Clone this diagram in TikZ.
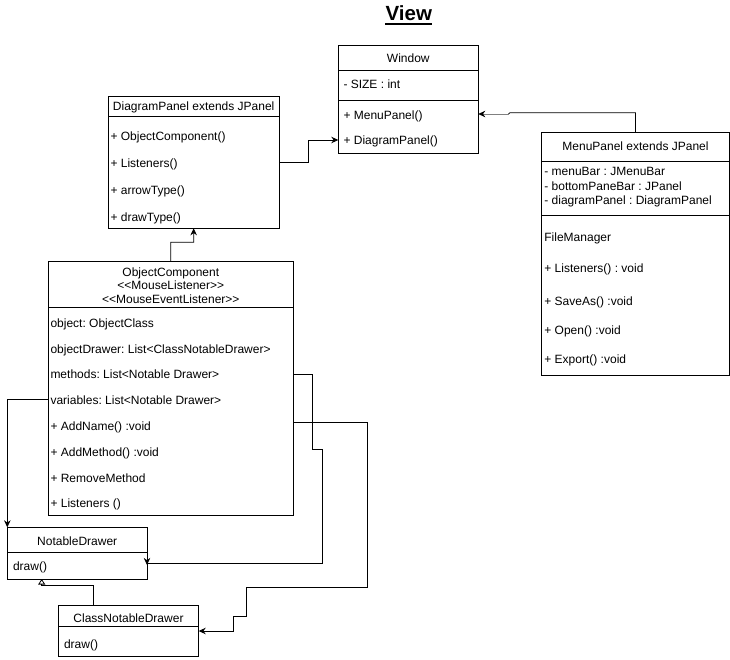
\documentclass[tikz,border=0pt]{standalone}
\usepackage{fontspec}
\setmainfont{Liberation Sans}
\usetikzlibrary{arrows.meta,calc}
\tikzset{
  umlbox/.style={draw, line width=0.8pt, anchor=north west, inner sep=0pt, outer sep=0pt},
  sepline/.style={line width=0.8pt},
  txt/.style={anchor=base west, inner sep=0pt, font=\fontsize{12}{14}\selectfont\frenchspacing},
  ctxt/.style={anchor=base, inner sep=0pt, font=\fontsize{12}{14}\selectfont\frenchspacing},
  conn/.style={line width=0.8pt},
  arr/.style={conn, -{Stealth[length=7pt,width=6.5pt]}},
  inh/.style={conn, -{Triangle[open,length=5.5pt,width=7pt]}},
}
\begin{document}
\begin{tikzpicture}[x=1pt,y=-1pt]
\useasboundingbox (0,0) rectangle (730,660);

% title
\node[anchor=base, inner sep=0pt, font=\fontsize{20.5}{24}\selectfont\bfseries] (title) at (408.8,20.7) {View};
\draw[line width=1.8pt] ($(title.south west)+(0,2.6)$) -- ($(title.south east)+(0,2.6)$);

% Window
\node[umlbox, minimum width=140pt, minimum height=108.3pt] (win) at (338.3,45) {};
\draw[sepline] (338.3,70.7) -- (478.3,70.7);
\draw[sepline] (338.3,100.7) -- (478.3,100.7);
\node[ctxt] (w0) at (408.3,62.3) {Window};
\node[txt] (w1) at (343.3,88.8) {- SIZE : int};
\node[txt] (w2) at (343.3,120.0) {+ MenuPanel()};
\node[txt] (w3) at (343.3,144.3) {+ DiagramPanel()};

% DiagramPanel
\node[umlbox, minimum width=170.7pt, minimum height=131.6pt] (dp) at (108.3,96.7) {};
\draw[sepline] (108.3,116.7) -- (279,116.7);
\node[ctxt] (d0) at (193.7,111.0) {DiagramPanel extends JPanel};
\node[txt] (d1) at (110.3,141.0) {+ ObjectComponent()};
\node[txt] (d2) at (110.3,167.6) {+ Listeners()};
\node[txt] (d3) at (110.3,195.0) {+ arrowType()};
\node[txt] (d4) at (110.3,221.6) {+ drawType()};

% MenuPanel
\node[umlbox, minimum width=187.6pt, minimum height=243.4pt] (mp) at (541.7,132.3) {};
\draw[sepline] (541.7,161) -- (729.3,161);
\draw[sepline] (541.7,215.7) -- (729.3,215.7);
\node[ctxt] (m0) at (635.5,151.0) {MenuPanel extends JPanel};
\node[txt] (m1) at (544.2,176.0) {- menuBar : JMenuBar};
\node[txt] (m2) at (544.2,190.3) {- bottomPaneBar : JPanel};
\node[txt] (m3) at (544.2,204.3) {- diagramPanel : DiagramPanel};
\node[txt] (m4) at (544.2,241.0) {FileManager};
\node[txt] (m5) at (544.2,272.6) {+ Listeners() : void};
\node[txt] (m6) at (544.2,305.0) {+ SaveAs() :void};
\node[txt] (m7) at (544.2,334.3) {+ Open() :void};
\node[txt] (m8) at (544.2,363.8) {+ Export() :void};

% ObjectComponent
\node[umlbox, minimum width=245pt, minimum height=254pt] (oc) at (48.3,261.7) {};
\draw[sepline] (48.3,307.7) -- (293.3,307.7);
\node[ctxt] (o0) at (170.8,276.3) {ObjectComponent};
\node[ctxt] (o1) at (170.8,289.8) {<\kern0pt<MouseListener>\kern0pt>};
\node[ctxt] (o2) at (170.8,303.3) {<\kern0pt<MouseEventListener>\kern0pt>};
\node[txt] (o3) at (50.3,327.0) {object: ObjectClass};
\node[txt] (o4) at (50.3,353.0) {objectDrawer: List<ClassNotableDrawer>};
\node[txt] (o5) at (50.3,378.6) {methods: List<Notable Drawer>};
\node[txt] (o6) at (50.3,404.3) {variables: List<Notable Drawer>};
\node[txt] (o7) at (50.3,430.0) {+ AddName() :void};
\node[txt] (o8) at (50.3,456.0) {+ AddMethod() :void};
\node[txt] (o9) at (50.3,482.0) {+ RemoveMethod};
\node[txt] (o10) at (50.3,507.6) {+ Listeners ()};

% NotableDrawer
\node[umlbox, minimum width=139.7pt, minimum height=51.7pt] (nd) at (7.3,527.3) {};
\draw[sepline] (7.3,552.7) -- (147,552.7);
\node[ctxt] (n0) at (77.2,545.3) {NotableDrawer};
\node[txt] (n1) at (12.8,570.8) {draw()};

% ClassNotableDrawer
\node[umlbox, minimum width=140.4pt, minimum height=51pt] (cnd) at (58.3,605.7) {};
\draw[sepline] (58.3,626.7) -- (198.7,626.7);
\node[ctxt] (c0) at (128.5,622.3) {ClassNotableDrawer};
\node[txt] (c1) at (63.8,648.3) {draw()};

% ports
\coordinate (dpR) at (279,162.3);
\coordinate (winL) at (338.3,140);
\coordinate (winR) at (478.3,114);
\coordinate (ocVar) at (48.3,399);
\coordinate (ocMeth) at (293.3,374.3);
\coordinate (ocAdd) at (293.3,422.3);
\coordinate (ndR) at (147,563.3);
\coordinate (cndR) at (198.7,631);
\coordinate (cndT) at (93.3,605.7);
\coordinate (ndB) at (41.7,579);

% connectors
\draw[arr] (dpR) -- (308.3,162.3) -- (308.3,140) -- (winL);
\draw[conn] (mp.north) -- (635.5,112.7) -- (510,112.7) -- (508.5,114);
\draw[conn, draw=gray, -{Stealth[length=7pt,width=6.5pt,color=black,fill=black]}] (508.5,114) -- (winR);
\draw[arr] (oc.north) -- (170.8,242.3) -- (193.7,242.3) -- (dp.south);
\draw[arr] (ocVar) -- (7.3,399) -- (nd.north west);
\draw[conn] (ocMeth) -- (312.7,374.3) -- (312.7,449) -- (322.3,449) -- (322.3,563.3) -- (ndR);
\draw[arr] (ndR) -- ++(0,1.6);
\draw[arr] (ocAdd) -- (367.7,422.3) -- (367.7,587.3) -- (246.7,587.3) -- (246.7,616) -- (233.3,616) -- (233.3,631) -- (cndR);
\draw[inh] (cndT) -- (93.3,585.7) -- (41.7,585.7) -- (ndB);
\end{tikzpicture}
\end{document}
